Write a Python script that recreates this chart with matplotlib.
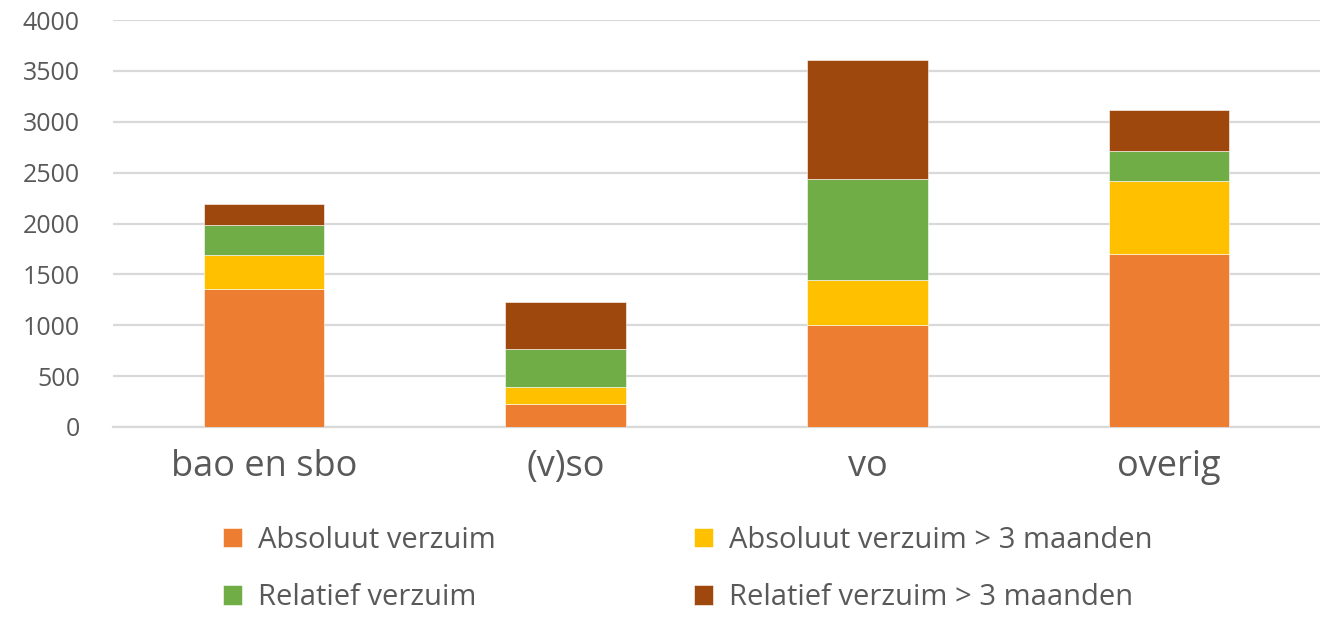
import matplotlib
matplotlib.use("Agg")
import matplotlib.pyplot as plt
import numpy as np

# categories and stacked series
categories = ['bao en sbo', '(v)so', 'vo', 'overig']
absoluut = [1353, 229, 1002, 1697]
absoluut_3m = [337, 164, 446, 721]
relatief = [295, 370, 993, 295]
relatief_3m = [204, 469, 1166, 406]

series_names = ['Absoluut verzuim', 'Absoluut verzuim > 3 maanden',
                'Relatief verzuim', 'Relatief verzuim > 3 maanden']
series = [absoluut, absoluut_3m, relatief, relatief_3m]
colors = ['#ED7D31', '#FFC000', '#70AD47', '#9E480E']

text_color = '#595959'
plt.rcParams['font.family'] = ['Open Sans', 'DejaVu Sans']

fig = plt.figure(figsize=(13.2, 6.24), dpi=100)
ax = fig.add_axes([113 / 1320, (624 - 427) / 624, 1207 / 1320, 407 / 624])

x = np.arange(len(categories))
bottom = np.zeros(len(categories))
handles = []
for name, vals, col in zip(series_names, series, colors):
    b = ax.bar(x, vals, width=0.4, bottom=bottom, color=col, label=name,
               edgecolor='white', linewidth=0.4, zorder=3)
    handles.append(b)
    bottom += np.array(vals)

ax.set_xlim(-0.5, 3.5)
ax.set_ylim(0, 4000)
ax.set_yticks(range(0, 4001, 500))
ax.yaxis.grid(True, color='#D9D9D9', linewidth=1.6, zorder=0)
ax.set_axisbelow(True)

for s in ['top', 'right', 'left']:
    ax.spines[s].set_visible(False)
ax.spines['bottom'].set_color('#D9D9D9')
ax.spines['bottom'].set_linewidth(1.6)

ax.set_xticks(x)
ax.set_xticklabels(categories, fontsize=26, color=text_color)
ax.tick_params(axis='x', length=0, pad=16)
ax.tick_params(axis='y', length=0, pad=24, labelsize=18, labelcolor=text_color)

# legend: two columns, filled column-wise
order = [0, 2, 1, 3]
leg = fig.legend([handles[i] for i in order], [series_names[i] for i in order],
                 ncol=2, loc='center', bbox_to_anchor=(0.521, 0.088),
                 frameon=False, fontsize=21, handlelength=0.65, handleheight=0.65,
                 handletextpad=0.55, columnspacing=6.8, labelspacing=0.98)
for t in leg.get_texts():
    t.set_color(text_color)

fig.savefig('out.png', dpi=100)
